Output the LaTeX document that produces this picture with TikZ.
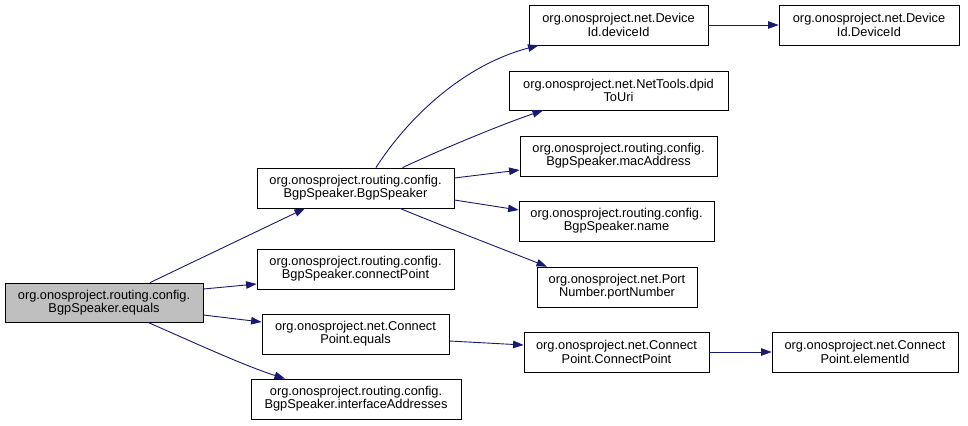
\documentclass[tikz,border=0pt]{standalone}
\usepackage{fontspec}
\setmainfont{Liberation Sans}
\usetikzlibrary{arrows.meta,calc}
\definecolor{edgeblue}{HTML}{191970}
\definecolor{hilite}{HTML}{BFBFBF}
\tikzset{
  fn/.style={draw=black, line width=0.8bp, fill=white, align=center, inner sep=0pt,
    minimum height=40bp, font=\fontsize{12.8bp}{13.3bp}\selectfont},
  edge/.style={draw=edgeblue, line width=0.9bp, -{Triangle[length=10.5bp,width=7.5bp]}, fill=none}
}
\begin{document}
\begin{tikzpicture}[x=1bp,y=-1bp]
\useasboundingbox (0,0) rectangle (968,425);
\node[fn, fill=hilite, minimum width=198bp, minimum height=39bp] (eq) at (104,302.5) {org.onosproject.routing.config.\\BgpSpeaker.equals};
\node[fn, minimum width=197bp] (bsp) at (355.5,188) {org.onosproject.routing.config.\\BgpSpeaker.BgpSpeaker};
\node[fn, minimum width=197bp] (cp) at (355.5,269) {org.onosproject.routing.config.\\BgpSpeaker.connectPoint};
\node[fn, minimum width=187bp] (cpe) at (355.5,334) {org.onosproject.net.Connect\\Point.equals};
\node[fn, minimum width=210bp] (ia) at (356,399) {org.onosproject.routing.config.\\BgpSpeaker.interfaceAddresses};
\node[fn, minimum width=179bp] (did) at (618.5,25) {org.onosproject.net.Device\\Id.deviceId};
\node[fn, minimum width=180bp] (DID) at (869,25) {org.onosproject.net.Device\\Id.DeviceId};
\node[fn, minimum width=219bp, minimum height=39bp] (dpid) at (618.5,90.5) {org.onosproject.net.NetTools.dpid\\ToUri};
\node[fn, minimum width=197bp] (mac) at (618.5,156) {org.onosproject.routing.config.\\BgpSpeaker.macAddress};
\node[fn, minimum width=195bp] (name) at (616.5,221) {org.onosproject.routing.config.\\BgpSpeaker.name};
\node[fn, minimum width=160bp] (port) at (617,287) {org.onosproject.net.Port\\Number.portNumber};
\node[fn, minimum width=185bp] (cpcp) at (616.5,352) {org.onosproject.net.Connect\\Point.ConnectPoint};
\node[fn, minimum width=186bp] (eid) at (865,352) {org.onosproject.net.Connect\\Point.elementId};

\draw[edge] ($(eq.north)+(46,0)$) -- ($(bsp.south)+(-50.5,0)$);
\draw[edge] ($(eq.east)+(0,-13.5)$) -- ($(cp.west)+(0,15)$);
\draw[edge] ($(eq.east)+(0,12.5)$) -- ($(cpe.west)+(0,-12)$);
\draw[edge] ($(eq.south)+(44,0)$) .. controls (195,343) and (245,366) .. ($(ia.north)+(-71,0)$);
\draw[edge] ($(bsp.north)+(20.5,0)$) .. controls (405,122) and (460,66) .. ($(did.south)+(-80,0)$);
\draw[edge] ($(bsp.north)+(47,0)$) .. controls (440,150) and (500,125) .. ($(dpid.south)+(-75.5,0)$);
\draw[edge] ($(bsp.east)+(0,-10)$) -- ($(mac.west)+(0,14)$);
\draw[edge] ($(bsp.east)+(0,12)$) -- ($(name.west)+(0,-11)$);
\draw[edge] ($(bsp.south)+(44.5,0)$) .. controls (440,225) and (505,250) .. ($(port.north)+(-70,0)$);
\draw[edge] (did) -- (DID);
\draw[edge] ($(cpe.east)+(0,7)$) -- ($(cpcp.west)+(0,-7)$);
\draw[edge] (cpcp) -- (eid);
\end{tikzpicture}
\end{document}
